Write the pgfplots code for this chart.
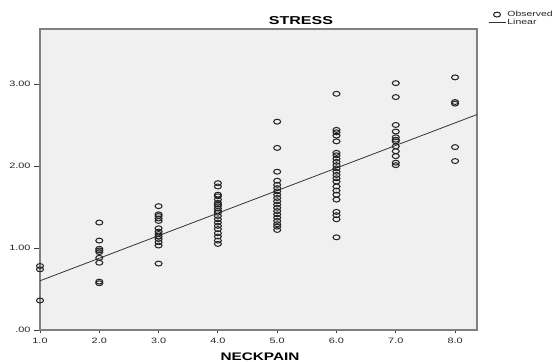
\documentclass[border=0pt]{standalone}
\usepackage{fontspec}
\setmainfont{Liberation Sans}[FakeStretch=1.4]
\usepackage{pgfplots}
\pgfplotsset{compat=1.18}
\definecolor{plotbg}{HTML}{F0F0F0}
\definecolor{frame}{HTML}{808080}
\begin{document}
\begin{tikzpicture}
\path[use as bounding box] (0,0) rectangle (555bp,362bp);
\clip (0,0) rectangle (555bp,362bp);
\begin{axis}[
  at={(40bp,32bp)}, anchor=south west,
  scale only axis, width=437bp, height=301bp,
  xmin=1, xmax=8.37, ymin=0, ymax=3.67,
  axis background/.style={fill=plotbg},
  axis line style={draw=frame, line width=1.2pt},
  xtick={1,2,3,4,5,6,7,8},
  xticklabels={1.0,2.0,3.0,4.0,5.0,6.0,7.0,8.0},
  ytick={0,1,2,3},
  yticklabels={.00,1.00,2.00,3.00},
  tick align=outside, xtick pos=bottom, ytick pos=left,
  major tick length=6bp,
  tick style={draw=black!75, line width=0.8pt},
  xtick style={/pgfplots/major tick length=3bp},
  /pgf/number format/assume math mode=true,
  ticklabel style={font=\fontsize{7.8}{8}\selectfont, text=black!85},
  yticklabel style={xshift=0bp},
  xticklabel style={yshift=1bp},
  legend style={at={(1.025,1.065)}, anchor=north west, draw=none, fill=none,
    font=\fontsize{7.5}{8}\selectfont, text=black!85, inner sep=0pt, row sep=-2pt,
    nodes={inner sep=1.5pt}},
  legend cell align=left,
  clip=false,
]
\addplot[only marks, mark=o, mark size=3.5bp, mark options={yscale=0.7, draw=black!85, line width=1.05pt}] coordinates {
(1,0.78) (1,0.74) (1,0.36)
(2,1.31) (2,1.09) (2,0.99) (2,0.97) (2,0.95) (2,0.88) (2,0.82) (2,0.59) (2,0.57)
(3,1.51) (3,1.41) (3,1.39) (3,1.36) (3,1.33) (3,1.24) (3,1.20) (3,1.17) (3,1.14) (3,1.11) (3,1.07) (3,1.03) (3,0.81)
(4,1.79) (4,1.75) (4,1.65) (4,1.63) (4,1.59) (4,1.55) (4,1.53) (4,1.51) (4,1.48) (4,1.45) (4,1.43) (4,1.39) (4,1.35) (4,1.31) (4,1.27) (4,1.23) (4,1.18) (4,1.14) (4,1.09) (4,1.05)
(5,2.54) (5,2.22) (5,1.93) (5,1.82) (5,1.77) (5,1.73) (5,1.69) (5,1.65) (5,1.61) (5,1.57) (5,1.53) (5,1.49) (5,1.45) (5,1.41) (5,1.37) (5,1.33) (5,1.29) (5,1.26) (5,1.22)
(6,2.88) (6,2.44) (6,2.41) (6,2.37) (6,2.30) (6,2.16) (6,2.13) (6,2.09) (6,2.05) (6,2.01) (6,1.97) (6,1.93) (6,1.89) (6,1.85) (6,1.81) (6,1.75) (6,1.70) (6,1.65) (6,1.59) (6,1.44) (6,1.40) (6,1.35) (6,1.13)
(7,3.01) (7,2.84) (7,2.50) (7,2.42) (7,2.35) (7,2.32) (7,2.30) (7,2.24) (7,2.18) (7,2.12) (7,2.04) (7,2.01)
(8,3.08) (8,2.78) (8,2.76) (8,2.23) (8,2.06)
};
\addlegendentry{Observed}
\addplot[draw=black!80, line width=0.8pt] coordinates {(1,0.60) (8.37,2.627)};
\addlegendentry{Linear}
\end{axis}
\node[anchor=base, font=\fontsize{11.5}{13}\selectfont\bfseries] at (301bp,337bp) {STRESS};
\node[anchor=base, font=\fontsize{11}{13}\selectfont\bfseries] at (260bp,1.5bp) {NECKPAIN};
\end{tikzpicture}
\end{document}
